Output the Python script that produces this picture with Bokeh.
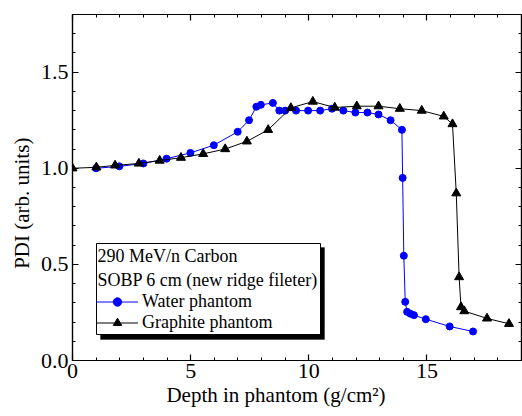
from bokeh.plotting import figure
from bokeh.models import (Range1d, FixedTicker, LinearAxis, PrintfTickFormatter,
                          CustomJSTickFormatter, Legend, LegendItem, BoxAnnotation, Label)
from bokeh.embed import file_html
from bokeh.resources import INLINE

# ---- data ----
water_x = [1.0, 1.98, 3.0, 3.98, 4.99, 5.98, 6.99, 7.47, 7.78, 7.97, 8.48, 8.75, 9.0,
           9.46, 9.97, 10.48, 10.98, 11.46, 11.97, 12.48, 12.95, 13.46, 13.94, 13.97,
           14.02, 14.08, 14.16, 14.3, 14.45, 14.95, 15.96, 16.95]
water_y = [1.00, 1.01, 1.025, 1.05, 1.08, 1.12, 1.19, 1.25, 1.32, 1.33, 1.34, 1.30, 1.30,
           1.30, 1.30, 1.30, 1.31, 1.30, 1.29, 1.29, 1.28, 1.25, 1.20, 0.95,
           0.545, 0.305, 0.253, 0.243, 0.236, 0.215, 0.177, 0.151]
graphite_x = [0.0, 1.01, 1.80, 2.81, 3.69, 4.59, 5.53, 6.46, 7.38, 8.28, 9.24, 10.17,
              11.1, 12.03, 12.95, 13.85, 14.78, 15.71, 16.08, 16.24, 16.36, 16.44,
              16.58, 17.54, 18.47]
graphite_y = [1.00, 1.005, 1.015, 1.025, 1.04, 1.055, 1.075, 1.10, 1.14, 1.20, 1.314,
              1.347, 1.316, 1.323, 1.323, 1.31, 1.30, 1.27, 1.23, 0.87, 0.434, 0.278,
              0.257, 0.219, 0.191]
x_ticks = [0, 5, 10, 15]
y_ticks = [0.0, 0.5, 1.0, 1.5]
x_minor = list(range(0, 20))
y_minor = [i / 10 for i in range(0, 19)]
x_title = "Depth in phantom (g/cm²)"
y_title = "PDI (arb. units)"

FONT = "Liberation Serif"
NB = "\u00a0"

p = figure(width=522, height=416, output_backend="svg", toolbar_location=None,
           x_range=Range1d(0, 19), y_range=Range1d(0, 1.8),
           min_border_left=72, min_border_right=1, min_border_top=14,
           min_border_bottom=56,
           x_axis_label=x_title + NB * 8, y_axis_label=y_title + NB * 6)
p.grid.visible = False
p.outline_line_color = "black"
p.outline_line_width = 1.2
p.background_fill_color = "white"
p.border_fill_color = "white"

xt = FixedTicker(ticks=x_ticks, minor_ticks=x_minor)
yt = FixedTicker(ticks=y_ticks, minor_ticks=y_minor)

def style_axis(ax, labels=True):
    ax.major_tick_in = 6
    ax.major_tick_out = 0
    ax.minor_tick_in = 3
    ax.minor_tick_out = 0
    ax.axis_line_color = "black"
    ax.axis_line_width = 1.2
    ax.major_tick_line_width = 1.2
    ax.minor_tick_line_width = 1
    ax.major_label_text_font = FONT
    ax.axis_label_text_font = FONT
    ax.axis_label_text_font_style = "normal"
    ax.major_label_text_color = "black"
    ax.axis_label_text_color = "black"
    if labels:
        ax.major_label_text_font_size = "22px"
        ax.axis_label_text_font_size = "21px"
    else:
        ax.formatter = CustomJSTickFormatter(code="return ''")
        ax.major_label_text_font_size = "1px"
        ax.major_label_standoff = 0

xa = p.xaxis[0]
xa.ticker = xt
style_axis(xa)
xa.major_label_standoff = 3
xa.axis_label_standoff = 2
ya = p.yaxis[0]
ya.ticker = yt
ya.formatter = PrintfTickFormatter(format="%.1f")
style_axis(ya)
ya.major_label_standoff = 4
ya.axis_label_standoff = 4

top = LinearAxis(ticker=xt)
style_axis(top, labels=False)
p.add_layout(top, "above")
right = LinearAxis(ticker=yt)
style_axis(right, labels=False)
p.add_layout(right, "right")

wl = p.line(water_x, water_y, line_color="#0000ff", line_width=1)
ws = p.scatter(water_x, water_y, marker="circle", size=7, fill_color="#0000ff",
               line_color="#0000ff")
gl = p.line(graphite_x, graphite_y, line_color="black", line_width=1)
gs = p.scatter(graphite_x, graphite_y, marker="triangle", size=9, fill_color="black",
               line_color="black")

# legend box (shadow + white box), screen units relative to frame
shadow = BoxAnnotation(left=28, right=252, bottom=21, top=113,
                       left_units="screen", right_units="screen",
                       bottom_units="screen", top_units="screen",
                       fill_color="black", fill_alpha=1.0, line_color="black")
box = BoxAnnotation(left=24, right=248, bottom=26, top=117,
                    left_units="screen", right_units="screen",
                    bottom_units="screen", top_units="screen",
                    fill_color="white", fill_alpha=1.0, line_color="black",
                    line_width=1, line_alpha=1.0)
p.add_layout(shadow)
p.add_layout(box)
for txt, yy in [("290 MeV/n Carbon", 105), ("SOBP 6 cm (new ridge fileter)", 81)]:
    p.add_layout(Label(x=25, y=yy, x_units="screen", y_units="screen", text=txt,
                       text_font=FONT, text_font_size="18px", text_color="black",
                       text_baseline="middle", text_align="left"))

legend = Legend(items=[LegendItem(label="Water phantom", renderers=[wl, ws]),
                       LegendItem(label="Graphite phantom", renderers=[gl, gs])],
                location=(24, 27), padding=0, margin=0, spacing=0,
                glyph_width=42, glyph_height=21, label_height=21,
                label_standoff=4, border_line_color=None,
                background_fill_alpha=0, label_text_font=FONT,
                label_text_font_size="18px", label_text_color="black")
p.add_layout(legend, "center")

open("out.html", "w").write(file_html(p, INLINE))
